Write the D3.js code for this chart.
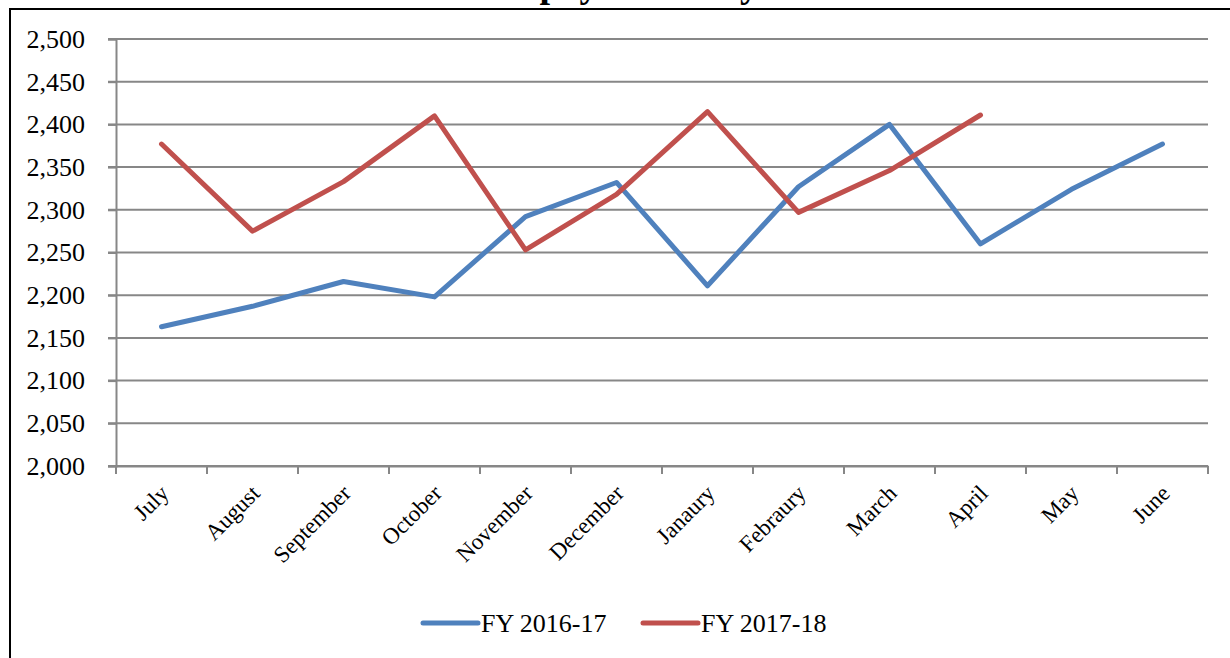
<!DOCTYPE html>
<html>
<head>
<meta charset="utf-8">
<script src="https://cdn.jsdelivr.net/npm/d3@7"></script>
<style>
  body { margin: 0; background: #fff; }
  svg { display: block; font-family: "Liberation Serif", "Times New Roman", serif; }
</style>
</head>
<body>
<div id="chart"></div>
<script>
// data
const months = ["July", "August", "September", "October", "November", "December",
  "Janaury", "Febraury", "March", "April", "May", "June"];
const fy1617 = [2163, 2187, 2216, 2198, 2292, 2332, 2211, 2327, 2400, 2260, 2324, 2377];
const fy1718 = [2377, 2275, 2333, 2410, 2253, 2318, 2415, 2297, 2346, 2411];
const yTicks = [2000, 2050, 2100, 2150, 2200, 2250, 2300, 2350, 2400, 2450, 2500];
const seriesNames = ["FY 2016-17", "FY 2017-18"];
const colors = ["#4F81BD", "#C0504D"];

const width = 1230, height = 658;
const plot = { left: 116, right: 1208, top: 39, bottom: 466 };

const svg = d3.select("#chart").append("svg")
  .attr("width", width).attr("height", height);

// outer frame
svg.append("rect")
  .attr("x", 10).attr("y", 9)
  .attr("width", 1230).attr("height", 700)
  .attr("fill", "none").attr("stroke", "#000").attr("stroke-width", 2);

svg.append("text")
  .attr("x", 616).attr("y", -3)
  .attr("text-anchor", "middle")
  .style("font-size", "38px").style("font-weight", "bold")
  .text("Chart 5: Sepoy Count by Month");

const x = d3.scaleBand().domain(months).range([plot.left, plot.right]);
const y = d3.scaleLinear().domain([2000, 2500]).range([plot.bottom, plot.top]);

// gridlines
svg.append("g")
  .selectAll("line").data(yTicks).enter().append("line")
  .attr("x1", plot.left - 8).attr("x2", plot.right)
  .attr("y1", d => y(d)).attr("y2", d => y(d))
  .attr("stroke", "#878787").attr("stroke-width", 2);

// y axis
const yAxis = svg.append("g")
  .attr("transform", "translate(" + plot.left + ",0)")
  .call(d3.axisLeft(y).tickValues(yTicks).tickFormat(d3.format(",")).tickSize(8).tickPadding(23));
yAxis.select(".domain").attr("stroke", "#878787").attr("stroke-width", 2);
yAxis.selectAll(".tick line").attr("stroke", "#878787").attr("stroke-width", 2);
yAxis.selectAll("text")
  .style("font-family", "Liberation Serif, serif").style("font-size", "26px").attr("fill", "#000");

// x axis
const xAxis = svg.append("g")
  .attr("transform", "translate(0," + plot.bottom + ")")
  .call(d3.axisBottom(x).tickSize(0).tickPadding(0));
xAxis.select(".domain").attr("stroke", "#878787").attr("stroke-width", 2);
xAxis.selectAll(".tick text").remove();

const bounds = months.map(m => x(m)).concat([plot.right]);
xAxis.selectAll(".xtick").data(bounds).enter().append("line")
  .attr("x1", d => d).attr("x2", d => d)
  .attr("y1", 0).attr("y2", 8)
  .attr("stroke", "#878787").attr("stroke-width", 2);

svg.append("g").selectAll("text").data(months).enter().append("text")
  .attr("transform", d => "translate(" + (x(d) + x.bandwidth() / 2 + 3) + "," + (plot.bottom + 23) + ") rotate(-45)")
  .attr("text-anchor", "end")
  .attr("dy", "0.35em")
  .style("font-size", "23px")
  .text(d => d);

// lines
const line = d3.line()
  .x((d, i) => x(months[i]) + x.bandwidth() / 2)
  .y(d => y(d));

[fy1617, fy1718].forEach((s, k) => {
  svg.append("path")
    .datum(s)
    .attr("d", line)
    .attr("fill", "none")
    .attr("stroke", colors[k])
    .attr("stroke-width", 5)
    .attr("stroke-linecap", "round")
    .attr("stroke-linejoin", "round");
});

// legend
const legendPos = [423, 643];
seriesNames.forEach((name, k) => {
  const g = svg.append("g").attr("transform", "translate(" + legendPos[k] + ",623)");
  g.append("line")
    .attr("x1", 0).attr("x2", 55)
    .attr("stroke", colors[k]).attr("stroke-width", 5).attr("stroke-linecap", "round");
  g.append("text")
    .attr("x", 58).attr("dy", "0.35em")
    .style("font-size", "26px")
    .text(name);
});
</script>
</body>
</html>
